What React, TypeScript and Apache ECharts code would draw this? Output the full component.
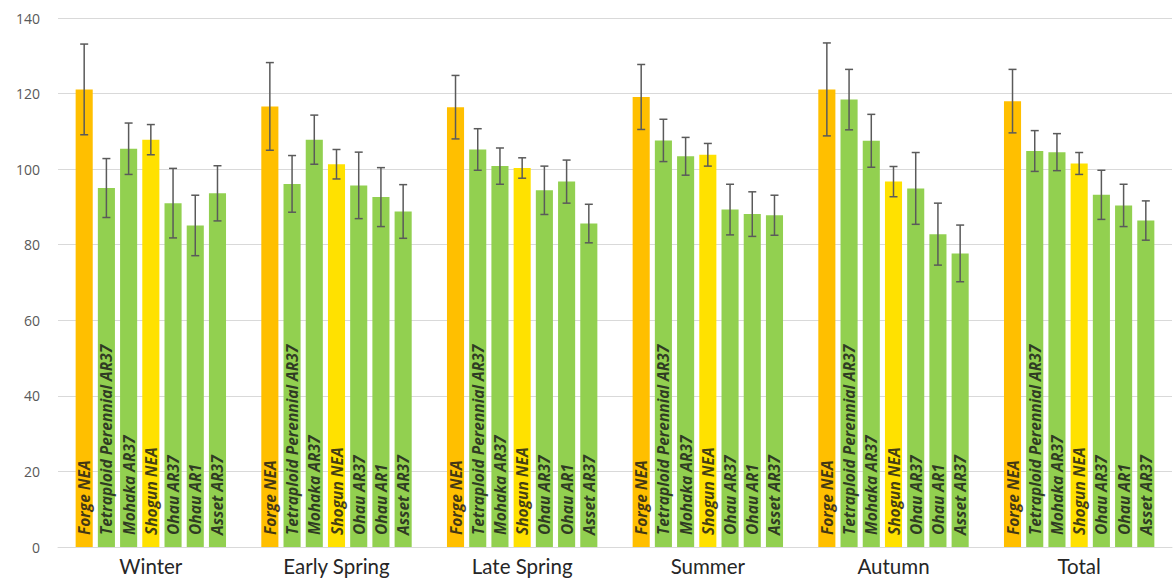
import React, { useEffect, useRef } from "react";
import * as echarts from "echarts";

const categories = ["Winter", "Early Spring", "Late Spring", "Summer", "Autumn", "Total"];
const seriesNames = [
  "Forge NEA",
  "Tetraploid Perennial AR37",
  "Mohaka AR37",
  "Shogun NEA",
  "Ohau AR37",
  "Ohau AR1",
  "Asset AR37",
];
const seriesColors = ["#FFBF00", "#92D050", "#92D050", "#FFE100", "#92D050", "#92D050", "#92D050"];

const forgeNEA = [121.1, 116.6, 116.4, 119.1, 121.1, 118.0];
const tetraploidAR37 = [95.0, 96.1, 105.2, 107.6, 118.4, 104.8];
const mohakaAR37 = [105.4, 107.8, 100.8, 103.4, 107.5, 104.5];
const shogunNEA = [107.8, 101.3, 100.3, 103.8, 96.7, 101.5];
const ohauAR37 = [91.0, 95.7, 94.4, 89.3, 94.9, 93.2];
const ohauAR1 = [85.1, 92.6, 96.7, 88.1, 82.8, 90.4];
const assetAR37 = [93.6, 88.8, 85.6, 87.8, 77.7, 86.4];

const forgeErr = [12.0, 11.6, 8.4, 8.6, 12.3, 8.4];
const tetraploidErr = [7.8, 7.5, 5.5, 5.6, 8.0, 5.4];
const mohakaErr = [6.8, 6.5, 4.8, 5.0, 7.0, 4.9];
const shogunErr = [4.0, 3.9, 2.7, 3.0, 4.0, 2.9];
const ohauAR37Err = [9.2, 8.8, 6.4, 6.7, 9.5, 6.5];
const ohauAR1Err = [8.0, 7.8, 5.7, 5.9, 8.2, 5.6];
const assetErr = [7.3, 7.1, 5.1, 5.3, 7.5, 5.2];

const values = [forgeNEA, tetraploidAR37, mohakaAR37, shogunNEA, ohauAR37, ohauAR1, assetAR37];
const errors = [forgeErr, tetraploidErr, mohakaErr, shogunErr, ohauAR37Err, ohauAR1Err, assetErr];

const BAR_CAT_GAP = 0.19;
const BAR_GAP = 0.3;

export default function App() {
  const ref = useRef<HTMLDivElement>(null);
  useEffect(() => {
    if (!ref.current) return;
    const chart = echarts.init(ref.current, null, { renderer: "svg" });
    const n = seriesNames.length;

    const barSeries = seriesNames.map((name, i) => ({
      type: "bar",
      name,
      data: values[i],
      itemStyle: { color: seriesColors[i] },
      barGap: BAR_GAP * 100 + "%",
      barCategoryGap: BAR_CAT_GAP * 100 + "%",
      label: {
        show: true,
        position: "insideBottom",
        rotate: 90,
        align: "left",
        verticalAlign: "middle",
        distance: 12,
        formatter: name,
        fontFamily: "Open Sans",
        fontWeight: "bold",
        fontStyle: "italic",
        fontSize: 15.5,
        color: "rgba(25,25,25,0.82)",
      },
      z: 2,
    }));

    const errSeries = seriesNames.map((name, i) => ({
      type: "custom",
      name: name + " err",
      data: values[i].map((v, k) => [k, v, errors[i][k]]),
      z: 5,
      silent: true,
      renderItem: (params: any, api: any) => {
        const k = api.value(0);
        const v = api.value(1);
        const e = api.value(2);
        const band = api.size([1, 0])[0];
        const remained = band * (1 - BAR_CAT_GAP);
        const w = remained / (n + (n - 1) * BAR_GAP);
        const total = n * w + (n - 1) * w * BAR_GAP;
        const center = api.coord([k, v]);
        const x = center[0] - total / 2 + i * w * (1 + BAR_GAP) + w / 2;
        const yTop = api.coord([k, v + e])[1];
        const yBot = api.coord([k, v - e])[1];
        const cap = 4;
        const style = { stroke: "#5a5a5a", lineWidth: 1.5 };
        return {
          type: "group",
          children: [
            { type: "line", shape: { x1: x, y1: yTop, x2: x, y2: yBot }, style },
            { type: "line", shape: { x1: x - cap, y1: yTop, x2: x + cap, y2: yTop }, style },
            { type: "line", shape: { x1: x - cap, y1: yBot, x2: x + cap, y2: yBot }, style },
          ],
        };
      },
    }));

    chart.setOption({
      animation: false,
      backgroundColor: "#ffffff",
      grid: { left: 58, right: 2, top: 18, bottom: 32, containLabel: false },
      xAxis: {
        type: "category",
        data: categories,
        axisTick: { show: false },
        axisLine: { lineStyle: { color: "#d9d9d9", width: 1 } },
        axisLabel: {
          color: "#262626",
          fontSize: 20.5,
          fontFamily: "Lato",
          margin: 8,
        },
      },
      yAxis: {
        type: "value",
        min: 0,
        max: 140,
        interval: 20,
        axisLine: { show: false },
        axisTick: { show: false },
        splitLine: { lineStyle: { color: "#d9d9d9", width: 1 } },
        axisLabel: {
          color: "#595959",
          fontSize: 14,
          fontFamily: "Open Sans",
          margin: 18,
        },
      },
      series: [...barSeries, ...errSeries],
    });
    return () => chart.dispose();
  }, []);
  return (
    <div
      ref={ref}
      style={{ position: "fixed", left: 0, top: 0, width: 1174, height: 579 }}
    />
  );
}
